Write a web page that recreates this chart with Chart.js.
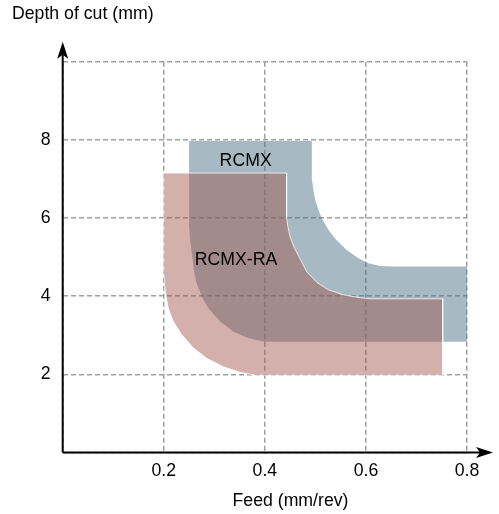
<!DOCTYPE html>
<html>
<head>
<meta charset="utf-8">
<script src="https://cdn.jsdelivr.net/npm/chart.js@4"></script>
<style>
  html, body { margin: 0; padding: 0; background: #fff; }
  #wrap { width: 499px; height: 514px; }
</style>
</head>
<body>
<div id="wrap"><canvas id="chartCanvas" width="499" height="514"></canvas></div>
<script>
// --- data (feed mm/rev, depth mm) ---
const xTicks = [0.2, 0.4, 0.6, 0.8];
const yTicks = [2, 4, 6, 8];

// RCMX outline, clockwise from the top-left corner
const rcmxFeed  = [0.25, 0.493, 0.493, 0.496, 0.4996, 0.506, 0.513, 0.526, 0.541, 0.562, 0.585, 0.605, 0.628, 0.65, 0.80, 0.80,
                   0.40, 0.3675, 0.338, 0.3115, 0.288, 0.275, 0.264, 0.259, 0.256, 0.2525, 0.25, 0.25];
const rcmxDepth = [7.97, 7.97, 7.0, 6.72, 6.46, 6.21, 5.98, 5.69, 5.44, 5.18, 4.97, 4.84, 4.77, 4.76, 4.76, 2.83,
                   2.83, 2.92, 3.09, 3.35, 3.69, 3.99, 4.37, 4.71, 5.06, 5.4, 5.8, 7.97];

// RCMX-RA outline
const raFeed  = [0.20, 0.443, 0.443, 0.446, 0.450, 0.458, 0.469, 0.483, 0.503, 0.526, 0.556, 0.589, 0.61, 0.752, 0.752,
                 0.38, 0.351, 0.318, 0.285, 0.2587, 0.2356, 0.219, 0.209, 0.2046, 0.2015, 0.20, 0.20];
const raDepth = [7.15, 7.15, 6.0, 5.75, 5.52, 5.25, 4.97, 4.62, 4.35, 4.16, 4.03, 3.96, 3.93, 3.93, 1.98,
                 1.98, 2.05, 2.19, 2.41, 2.67, 3.01, 3.35, 3.69, 3.99, 4.3, 4.6, 7.15];

// label anchors (feed, depth at text baseline)
const regionLabels = [
  { text: "RCMX", x: 0.362, y: 7.34 },
  { text: "RCMX-RA", x: 0.343, y: 4.80 }
];

const FONT = "'Liberation Sans', Arial, Helvetica, sans-serif";
const FONT_SIZE = 17.7;
const toPoints = (xs, ys) => xs.map((x, i) => ({ x, y: ys[i] }));

// axis arrows, axis titles and the region names
const decorations = {
  id: "decorations",
  afterDraw(chart) {
    const { ctx, chartArea: a, scales } = chart;
    ctx.save();
    ctx.strokeStyle = "#000";
    ctx.fillStyle = "#000";
    ctx.lineWidth = 2;

    ctx.beginPath();
    ctx.moveTo(a.left, a.bottom);
    ctx.lineTo(a.right + 14, a.bottom);
    ctx.moveTo(a.left, a.bottom);
    ctx.lineTo(a.left, a.top - 8);
    ctx.stroke();

    // x arrow head
    const xt = a.right + 26;
    ctx.beginPath();
    ctx.moveTo(xt, a.bottom);
    ctx.lineTo(xt - 17, a.bottom - 5.5);
    ctx.lineTo(xt - 13, a.bottom);
    ctx.lineTo(xt - 17, a.bottom + 5.5);
    ctx.closePath();
    ctx.fill();

    // y arrow head
    const yt = a.top - 20;
    ctx.beginPath();
    ctx.moveTo(a.left, yt);
    ctx.lineTo(a.left - 5.5, yt + 17);
    ctx.lineTo(a.left, yt + 13);
    ctx.lineTo(a.left + 5.5, yt + 17);
    ctx.closePath();
    ctx.fill();

    ctx.font = FONT_SIZE + "px " + FONT;
    ctx.textBaseline = "alphabetic";
    ctx.textAlign = "left";
    ctx.fillText("Depth of cut (mm)", 12, 18.5);
    ctx.textAlign = "center";
    ctx.fillText("Feed (mm/rev)", 290.5, 505.5);

    regionLabels.forEach(l => {
      ctx.fillText(l.text, scales.x.getPixelForValue(l.x), scales.y.getPixelForValue(l.y));
    });
    ctx.restore();
  }
};

const gridStyle = { color: "#a0a0a0", lineWidth: 1.5, drawTicks: false };
const borderStyle = { display: false, dash: [5, 3] };

new Chart(document.getElementById("chartCanvas"), {
  type: "scatter",
  data: {
    datasets: [
      {
        label: "RCMX-RA",
        data: toPoints(raFeed, raDepth),
        showLine: true,
        fill: "shape",
        backgroundColor: "rgba(163, 90, 80, 0.48)",
        borderColor: "rgba(255, 255, 255, 0.75)",
        borderWidth: 1,
        pointRadius: 0,
        tension: 0,
        order: 0
      },
      {
        label: "RCMX",
        data: toPoints(rcmxFeed, rcmxDepth),
        showLine: true,
        fill: "shape",
        backgroundColor: "rgba(79, 115, 135, 0.5)",
        borderColor: "rgba(0, 0, 0, 0)",
        borderWidth: 0,
        pointRadius: 0,
        tension: 0,
        order: 1
      }
    ]
  },
  options: {
    responsive: false,
    animation: false,
    events: [],
    layout: { padding: { top: 61.7, right: 32, bottom: 0, left: 0 } },
    plugins: {
      legend: { display: false },
      tooltip: { enabled: false }
    },
    scales: {
      x: {
        type: "linear",
        min: 0,
        max: 0.8,
        afterFit(scale) { scale.height = 61.6; },
        afterBuildTicks(scale) { scale.ticks = [0].concat(xTicks).map(v => ({ value: v })); },
        grid: gridStyle,
        border: borderStyle,
        ticks: {
          padding: 8,
          color: "#000",
          font: { size: FONT_SIZE, family: FONT },
          callback: v => (v === 0 ? "" : v.toFixed(1))
        }
      },
      y: {
        type: "linear",
        min: 0,
        max: 10,
        afterFit(scale) { scale.width = 62.7; },
        afterBuildTicks(scale) { scale.ticks = [0].concat(yTicks, [10]).map(v => ({ value: v })); },
        grid: gridStyle,
        border: borderStyle,
        ticks: {
          padding: 12,
          color: "#000",
          font: { size: FONT_SIZE, family: FONT },
          callback: v => (v === 0 || v === 10 ? "" : String(v))
        }
      }
    }
  },
  plugins: [decorations]
});
</script>
</body>
</html>
